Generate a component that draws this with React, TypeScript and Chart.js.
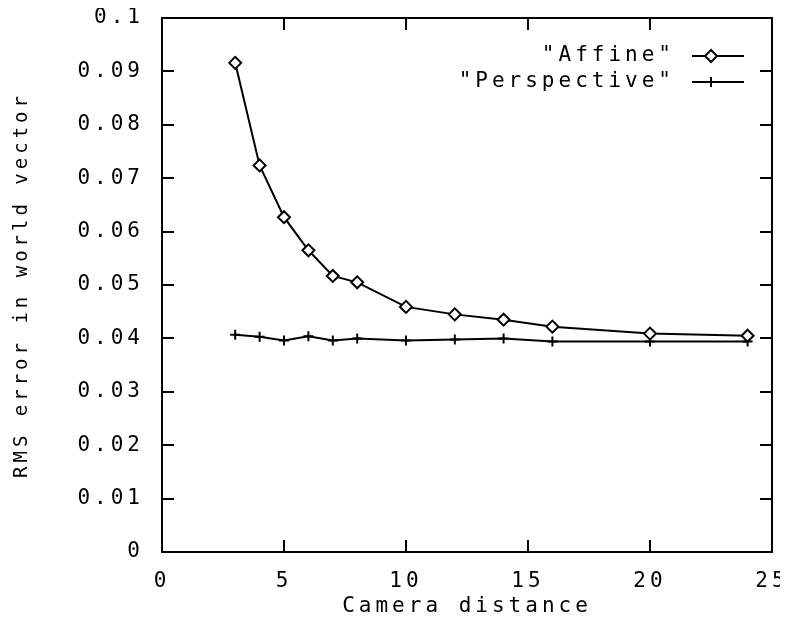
import React, { useEffect, useRef } from 'react';
import { Chart, registerables } from 'chart.js';
import { drawPoint } from 'chart.js/helpers';

Chart.register(...registerables);

// ---- data ----
const cameraDistance = [3, 4, 5, 6, 7, 8, 10, 12, 14, 16, 20, 24];
const affineError = [0.0916, 0.0724, 0.0627, 0.0565, 0.0517, 0.0505, 0.0459, 0.0445, 0.0435, 0.0422, 0.0409, 0.0405];
const perspectiveError = [0.0407, 0.0403, 0.0396, 0.0404, 0.0396, 0.04, 0.0396, 0.0398, 0.04, 0.0394, 0.0394, 0.0394];
const seriesLabels = ['"Affine"', '"Perspective"'];
const xTickValues = [0, 5, 10, 15, 20, 25];
const xTickLabels = ['0', '5', '10', '15', '20', '25'];
const yTickValues = [0, 0.01, 0.02, 0.03, 0.04, 0.05, 0.06, 0.07, 0.08, 0.09, 0.1];
const yTickLabels = ['0', '0.01', '0.02', '0.03', '0.04', '0.05', '0.06', '0.07', '0.08', '0.09', '0.1'];
const xTitle = 'Camera distance';
const yTitle = 'RMS error in world vector';

const FONT_FAMILY = "'DejaVu Sans Mono', monospace";
const FONT_SIZE = 21;
const FONT_WEIGHT = 'normal';
const LETTER_SPACING = '4px';

const setSpacing = (chart: any) => {
  try {
    (chart.ctx as any).letterSpacing = LETTER_SPACING;
  } catch (e) {}
};

const spacingPlugin = {
  id: 'spacing',
  beforeUpdate: setSpacing,
  beforeLayout: setSpacing,
  beforeDraw: setSpacing,
};

const framePlugin = {
  id: 'gnuframe',
  beforeDatasetsDraw(chart: any) {
    const { ctx, chartArea: a } = chart;
    const xs = chart.scales.x;
    const ys = chart.scales.y;
    const L = 12;
    ctx.save();
    ctx.strokeStyle = '#000';
    ctx.lineWidth = 2;
    ctx.strokeRect(a.left, a.top, a.right - a.left, a.bottom - a.top);
    ctx.beginPath();
    ys.ticks.forEach((_t: any, i: number) => {
      const py = Math.round(ys.getPixelForTick(i));
      ctx.moveTo(a.left, py);
      ctx.lineTo(a.left + L, py);
      ctx.moveTo(a.right, py);
      ctx.lineTo(a.right - L, py);
    });
    xs.ticks.forEach((_t: any, i: number) => {
      const px = Math.round(xs.getPixelForTick(i));
      ctx.moveTo(px, a.bottom);
      ctx.lineTo(px, a.bottom - L);
      ctx.moveTo(px, a.top);
      ctx.lineTo(px, a.top + L);
    });
    ctx.stroke();
    ctx.restore();
  },
};

const legendPlugin = {
  id: 'gnulegend',
  afterDraw(chart: any) {
    const { ctx } = chart;
    const textRight = 667;
    const lineStart = 684;
    const lineEnd = 736;
    const markerX = 703;
    const rows = [48, 74];
    ctx.save();
    ctx.letterSpacing = LETTER_SPACING;
    ctx.font = `${FONT_WEIGHT} ${FONT_SIZE}px ${FONT_FAMILY}`;
    ctx.fillStyle = '#000';
    ctx.textAlign = 'right';
    ctx.textBaseline = 'middle';
    chart.data.datasets.forEach((ds: any, i: number) => {
      const yy = rows[i];
      ctx.fillText(ds.label, textRight, yy);
      ctx.strokeStyle = ds.borderColor;
      ctx.lineWidth = ds.borderWidth;
      ctx.beginPath();
      ctx.moveTo(lineStart, yy);
      ctx.lineTo(lineEnd, yy);
      ctx.stroke();
      ctx.fillStyle = ds.pointBackgroundColor;
      ctx.strokeStyle = ds.borderColor;
      ctx.lineWidth = ds.pointBorderWidth;
      drawPoint(ctx, { pointStyle: ds.pointStyle, radius: ds.pointRadius, rotation: 0, borderWidth: ds.pointBorderWidth }, markerX, yy);
      ctx.fillStyle = '#000';
    });
    ctx.restore();
  },
};

export default function App() {
  const ref = useRef<HTMLCanvasElement | null>(null);
  useEffect(() => {
    if (!ref.current) return;
    const font = { family: FONT_FAMILY, size: FONT_SIZE, weight: FONT_WEIGHT };
    const chart = new Chart(ref.current, {
      type: 'line',
      data: {
        datasets: [
          {
            label: seriesLabels[0],
            data: cameraDistance.map((x, i) => ({ x, y: affineError[i] })),
            borderColor: '#000',
            borderWidth: 2,
            pointStyle: 'rectRot',
            pointRadius: 6,
            pointBorderWidth: 2,
            pointBackgroundColor: '#fff',
            pointBorderColor: '#000',
            tension: 0,
            fill: false,
          },
          {
            label: seriesLabels[1],
            data: cameraDistance.map((x, i) => ({ x, y: perspectiveError[i] })),
            borderColor: '#000',
            borderWidth: 2,
            pointStyle: 'cross',
            pointRadius: 5,
            pointBorderWidth: 2,
            pointBackgroundColor: '#fff',
            pointBorderColor: '#000',
            tension: 0,
            fill: false,
          },
        ],
      },
      options: {
        animation: false,
        responsive: false,
        devicePixelRatio: 1,
        layout: { padding: { top: 0, right: 8, left: 0, bottom: 0 } },
        plugins: { legend: { display: false }, tooltip: { enabled: false } },
        scales: {
          x: {
            type: 'linear',
            min: 0,
            max: 25,
            grid: { display: false, drawTicks: false },
            border: { display: false },
            afterBuildTicks: (s: any) => {
              s.ticks = xTickValues.map((v) => ({ value: v }));
            },
            afterFit: (s: any) => {
              s.height = 60;
              s.paddingLeft = 0;
              s.paddingRight = 0;
            },
            ticks: {
              color: '#000',
              font,
              padding: 17,
              maxRotation: 0,
              autoSkip: false,
              callback: (_v: any, i: number) => xTickLabels[i],
            },
            title: {
              display: true,
              text: xTitle,
              color: '#000',
              font: { ...font, lineHeight: 1 },
              padding: { top: 0, bottom: -5 },
            },
          },
          y: {
            type: 'linear',
            min: 0,
            max: 0.1,
            grid: { display: false, drawTicks: false },
            border: { display: false },
            afterBuildTicks: (s: any) => {
              s.ticks = yTickValues.map((v) => ({ value: v }));
            },
            afterFit: (s: any) => {
              s.width = 154;
              s.paddingTop = 10;
              s.paddingBottom = 0;
            },
            ticks: {
              color: '#000',
              font,
              padding: 18,
              autoSkip: false,
              callback: (_v: any, i: number) => yTickLabels[i],
            },
            title: {
              display: true,
              text: yTitle,
              color: '#000',
              font: { ...font, size: 19 },
              padding: { top: 3, bottom: 4 },
            },
          },
        },
      },
      plugins: [spacingPlugin, framePlugin, legendPlugin],
    });
    return () => chart.destroy();
  }, []);
  return <canvas ref={ref} width={772} height={604} style={{ display: 'block' }} />;
}
